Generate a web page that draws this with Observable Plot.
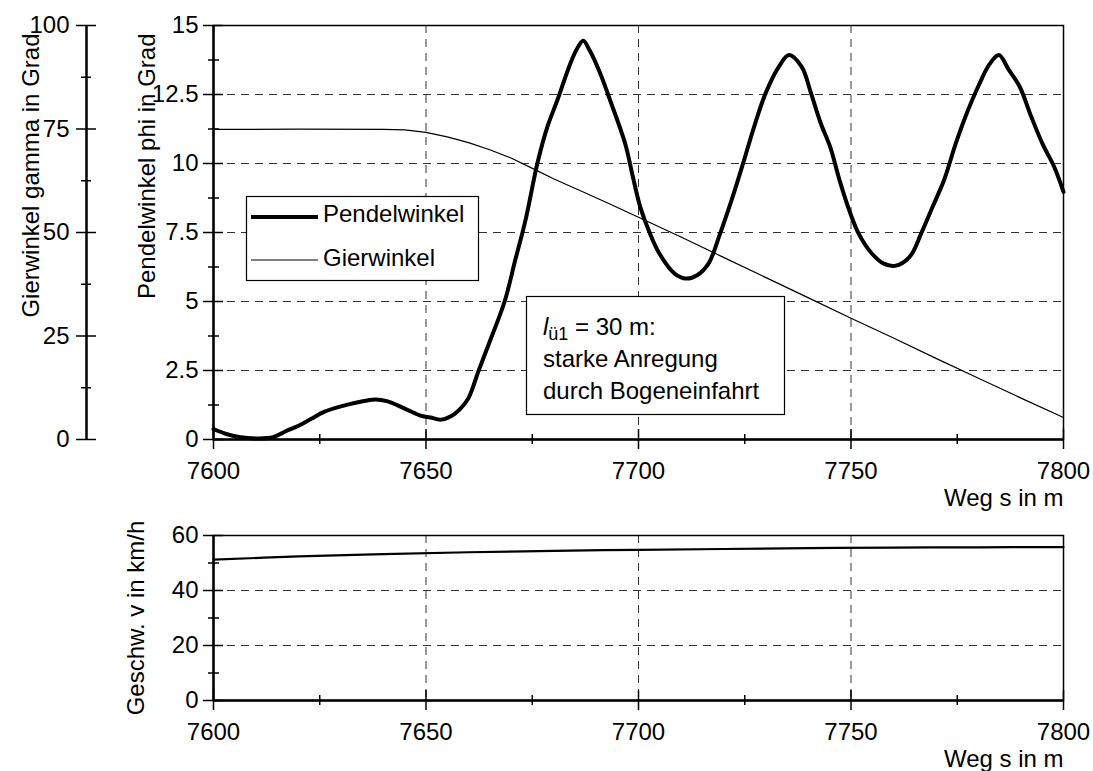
<!DOCTYPE html>
<html><head><meta charset="utf-8">
<script src="https://cdn.jsdelivr.net/npm/d3@7"></script>
<script src="https://cdn.jsdelivr.net/npm/@observablehq/plot@0.6"></script>
<style>
body{margin:0;background:#fff;font-family:"Liberation Sans",Arial,sans-serif;}
#wrap{position:relative;width:1093px;height:771px;overflow:hidden;}
#wrap svg{display:block}
#overlay{position:absolute;left:0;top:0;pointer-events:none}
</style></head><body><div id="wrap"></div>
<script>
// ---- data ----
const wegPendel = [7600,7603,7606,7610,7614,7617,7620,7623,7626,7630,7634,7638,7641,7645,7649,7651,7653.5,7656,7658,7660,7662.4,7665,7668.5,7671,7673.4,7676.2,7678.5,7680.9,7683.9,7685.5,7687,7688.5,7691,7693.3,7696.9,7698.7,7700.4,7702.7,7704.9,7708.5,7711.2,7713.8,7716.5,7719.2,7721.9,7724.6,7727.2,7729.9,7733,7735.4,7738.4,7740.6,7742.9,7745.1,7747.3,7749.6,7751.8,7754.9,7757.6,7760.3,7763.8,7766.5,7769.2,7771.9,7774.6,7777.2,7779.9,7782.6,7784.8,7787.1,7789.7,7792.4,7795.1,7797.8,7800];
const pendel = [0.38,0.2,0.09,0.04,0.08,0.3,0.5,0.75,1.0,1.2,1.35,1.45,1.38,1.12,0.85,0.8,0.72,0.85,1.1,1.5,2.5,3.55,5.0,6.5,7.94,10.0,11.3,12.29,13.6,14.15,14.45,14.1,13.26,12.3,10.7,9.5,8.43,7.46,6.74,6.01,5.83,5.95,6.38,7.46,8.67,10.0,11.33,12.54,13.5,13.93,13.5,12.54,11.45,10.6,9.4,8.3,7.46,6.74,6.38,6.29,6.62,7.46,8.43,9.4,10.7,11.8,12.78,13.6,13.93,13.4,12.78,11.7,10.7,9.88,8.97];

const wegGier = [7600,7620,7640,7645,7650,7655,7660,7665,7670,7676,7680,7687,7693,7700,7710,7720,7730,7740,7750,7760,7770,7780,7790,7800];
const gier = [74.9,74.95,74.9,74.8,74.2,73.1,71.7,70.0,68.0,65.0,63.0,59.8,57.0,53.7,48.9,44.0,39.1,34.2,29.3,24.5,19.6,14.8,10.0,5.3];

const wegV = [7600,7620,7640,7660,7680,7700,7720,7740,7760,7780,7800];
const geschw = [51.2,52.4,53.2,53.9,54.4,54.8,55.1,55.4,55.6,55.7,55.8];

const xTicks = [7600,7650,7700,7750,7800];
const xMinor = [7625,7675,7725,7775];
const xGrid = [7650,7700,7750];
const phiTicks = [0,2.5,5,7.5,10,12.5,15];
const phiMinor = [1.25,3.75,6.25,8.75,11.25,13.75];
const phiGrid = [2.5,5,7.5,10,12.5];
const gammaTicks = [0,25,50,75,100];
const gammaMinor = [12.5,37.5,62.5,87.5];
const vTicks = [0,20,40,60];
const vMinor = [10,30,50];
const vGrid = [20,40];

const labelX = "Weg s in m";
const labelPhi = "Pendelwinkel phi in Grad";
const labelGamma = "Gierwinkel gamma in Grad";
const labelV = "Geschw. v in km/h";

// gamma (0..100) drawn on the phi scale (0..15)
const g2p = g => g * 15 / 100;

const pendelData = wegPendel.map((s,i)=>({s, v: pendel[i]}));
const gierData = wegGier.map((s,i)=>({s, v: gier[i]}));
const vData = wegV.map((s,i)=>({s, v: geschw[i]}));

const font = "'Liberation Sans', Arial, sans-serif";
const fmt = d => String(d);
const dash = {stroke:"#333", strokeWidth:1, strokeDasharray:"8,6"};
const axisW = 2.5;

const chartTop = Plot.plot({
  width:1093, height:510,
  marginLeft:213, marginRight:30, marginTop:25, marginBottom:71,
  style:{fontSize:"24px", fontFamily:font, background:"white", color:"black", overflow:"visible"},
  x:{domain:[7600,7800]},
  y:{domain:[0,15]},
  marks:[
    Plot.ruleX(xGrid, dash),
    Plot.ruleY(phiGrid, dash),
    Plot.frame({stroke:"black", strokeWidth:1.5}),
    Plot.line(gierData, {x:"s", y: d => g2p(d.v), stroke:"black", strokeWidth:1.2}),
    Plot.line(pendelData, {x:"s", y:"v", stroke:"black", strokeWidth:4, curve:"catmull-rom", strokeLinejoin:"round"}),
    Plot.ruleX([7600], {stroke:"black", strokeWidth:axisW}),
    Plot.ruleY([0], {stroke:"black", strokeWidth:axisW}),
    // x axis
    Plot.axisX(xTicks, {anchor:"bottom", tickSize:20, dy:-10, fill:"none", strokeWidth:1.5, label:null}),
    Plot.axisX(xMinor, {anchor:"bottom", tickSize:10, dy:-5, fill:"none", strokeWidth:1.5, label:null}),
    Plot.axisX(xTicks, {anchor:"bottom", tickSize:0, tickPadding:22, tickFormat:fmt, label:null}),
    Plot.text([labelX], {text:d=>d, frameAnchor:"bottom-right", dy:66, textAnchor:"end"}),
    // phi axis
    Plot.axisY(phiTicks, {anchor:"left", tickSize:20, dx:10, fill:"none", strokeWidth:1.5, label:null}),
    Plot.axisY(phiMinor, {anchor:"left", tickSize:11, dx:6, fill:"none", strokeWidth:1.5, label:null}),
    Plot.axisY(phiTicks, {anchor:"left", tickSize:0, tickPadding:15, tickFormat:fmt, label:null}),
    Plot.text([labelPhi], {text:d=>d, frameAnchor:"top-left", dx:-76, dy:8, rotate:-90, textAnchor:"end"}),
    // gamma axis
    Plot.ruleX([7600], {dx:-127, stroke:"black", strokeWidth:axisW}),
    Plot.axisY(gammaTicks.map(g2p), {anchor:"left", tickSize:20, dx:-117, fill:"none", strokeWidth:1.5, label:null}),
    Plot.axisY(gammaMinor.map(g2p), {anchor:"left", tickSize:10, dx:-122, fill:"none", strokeWidth:1.5, label:null}),
    Plot.axisY(gammaTicks.map(g2p), {anchor:"left", tickSize:0, tickPadding:17, dx:-127, tickFormat: d => String(Math.round(d*100/15)), label:null}),
    Plot.text([labelGamma], {text:d=>d, frameAnchor:"top-left", dx:-192, dy:8, rotate:-90, textAnchor:"end"})
  ]
});

const chartBottom = Plot.plot({
  width:1093, height:261,
  marginLeft:213, marginRight:30, marginTop:25, marginBottom:71,
  style:{fontSize:"24px", fontFamily:font, background:"white", color:"black", overflow:"visible"},
  x:{domain:[7600,7800]},
  y:{domain:[0,60]},
  marks:[
    Plot.ruleX(xGrid, dash),
    Plot.ruleY(vGrid, dash),
    Plot.frame({stroke:"black", strokeWidth:1.5}),
    Plot.line(vData, {x:"s", y:"v", stroke:"black", strokeWidth:2.2, curve:"catmull-rom"}),
    Plot.ruleX([7600], {stroke:"black", strokeWidth:axisW}),
    Plot.ruleY([0], {stroke:"black", strokeWidth:axisW}),
    Plot.axisX(xTicks, {anchor:"bottom", tickSize:20, dy:-10, fill:"none", strokeWidth:1.5, label:null}),
    Plot.axisX(xMinor, {anchor:"bottom", tickSize:10, dy:-5, fill:"none", strokeWidth:1.5, label:null}),
    Plot.axisX(xTicks, {anchor:"bottom", tickSize:0, tickPadding:22, tickFormat:fmt, label:null}),
    Plot.text([labelX], {text:d=>d, frameAnchor:"bottom-right", dy:66, textAnchor:"end"}),
    Plot.axisY(vTicks, {anchor:"left", tickSize:20, dx:10, fill:"none", strokeWidth:1.5, label:null}),
    Plot.axisY(vMinor, {anchor:"left", tickSize:11, dx:6, fill:"none", strokeWidth:1.5, label:null}),
    Plot.axisY(vTicks, {anchor:"left", tickSize:0, tickPadding:15, tickFormat:fmt, label:null}),
    Plot.text([labelV], {text:d=>d, frameAnchor:"left", dx:-77, rotate:-90, textAnchor:"middle"})
  ]
});

const wrap = document.getElementById("wrap");
wrap.appendChild(chartTop);
wrap.appendChild(chartBottom);

// legend + annotation overlay
const legendItems = ["Pendelwinkel","Gierwinkel"];
const legendWidths = [4, 1.2];
const noteLines = ["starke Anregung","durch Bogeneinfahrt"];
const ov = `
<svg id="overlay" width="1093" height="771" xmlns="http://www.w3.org/2000/svg" style="font-family:${font};font-size:24px">
  <rect x="246.5" y="196.5" width="232" height="84" fill="white" stroke="black" stroke-width="1.2"/>
  <line x1="251" x2="318" y1="217" y2="217" stroke="black" stroke-width="${legendWidths[0]}"/>
  <text x="323" y="221.5">${legendItems[0]}</text>
  <line x1="251" x2="318" y1="260" y2="260" stroke="black" stroke-width="${legendWidths[1]}"/>
  <text x="323" y="265.5">${legendItems[1]}</text>
  <rect x="526.5" y="296.5" width="258" height="118" fill="white" stroke="black" stroke-width="1.2"/>
  <text x="543" y="335"><tspan font-style="italic">l</tspan><tspan font-size="18" dy="5">ü1</tspan><tspan dy="-5"> = 30 m:</tspan></text>
  <text x="543" y="367">${noteLines[0]}</text>
  <text x="543" y="399">${noteLines[1]}</text>
</svg>`;
wrap.insertAdjacentHTML("beforeend", ov);
</script>
</body></html>
